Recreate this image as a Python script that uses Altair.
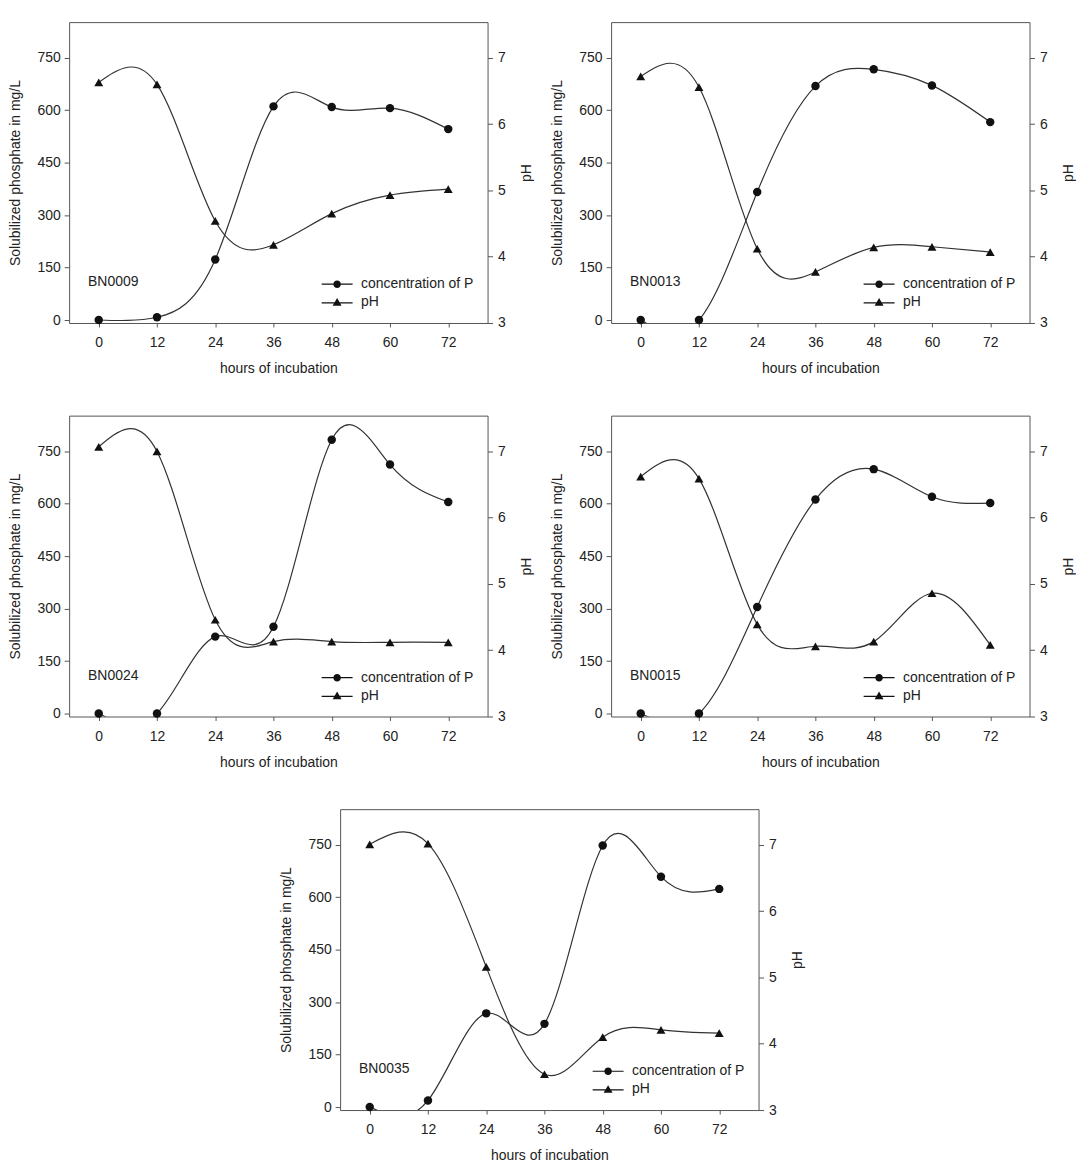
import altair as alt
import pandas as pd

# ---------------- data ----------------
hours = [0, 12, 24, 36, 48, 60, 72]
strains = ["BN0009", "BN0013", "BN0024", "BN0015", "BN0035"]

p_bn0009 = [0, 8, 173, 611, 609, 606, 546]
p_bn0013 = [0, 0, 366, 669, 717, 671, 566]
p_bn0024 = [0, 0, 220, 248, 783, 712, 605]
p_bn0015 = [0, 0, 305, 612, 699, 620, 602]
p_bn0035 = [0, 19, 268, 238, 748, 659, 624]

ph_bn0009 = [6.63, 6.60, 4.54, 4.18, 4.65, 4.93, 5.02]
ph_bn0013 = [6.72, 6.56, 4.12, 3.77, 4.14, 4.15, 4.07]
ph_bn0024 = [7.07, 7.00, 4.46, 4.13, 4.13, 4.12, 4.12]
ph_bn0015 = [6.62, 6.59, 4.39, 4.06, 4.13, 4.86, 4.08]
ph_bn0035 = [7.01, 7.02, 5.16, 3.54, 4.10, 4.21, 4.16]

phosphate = {"BN0009": p_bn0009, "BN0013": p_bn0013, "BN0024": p_bn0024,
             "BN0015": p_bn0015, "BN0035": p_bn0035}
ph = {"BN0009": ph_bn0009, "BN0013": ph_bn0013, "BN0024": ph_bn0024,
      "BN0015": ph_bn0015, "BN0035": ph_bn0035}

series_names = ["concentration of P", "pH"]
p_ticks = [0, 150, 300, 450, 600, 750]
ph_ticks = [3, 4, 5, 6, 7]

# ---------------- style ----------------
FONT = "Liberation Sans"
W, H = 420, 302
LINE = "#333333"
MARK = "#111111"
TEXT = "#222222"
FRAME = "#555555"

# legend symbols: a short filled bar (the line) with the marker in its middle
circle_path = ("M-1.94,-0.07H1.94V0.07H-1.94Z"
               "M0.47,0A0.47,0.47,0,1,1,-0.47,0A0.47,0.47,0,1,1,0.47,0Z")
tri_path = ("M-1.94,0.03H1.94V0.17H-1.94Z"
            "M0,-0.5L0.56,0.46L-0.56,0.46Z")


def panel(name):
    df = pd.DataFrame({"hours": hours, "P": phosphate[name], "pH": ph[name]})
    base = alt.Chart(df)

    x = alt.X("hours:Q",
              scale=alt.Scale(domain=[-6.1, 80.1], nice=False, zero=False),
              axis=alt.Axis(values=hours, title="hours of incubation",
                            tickSize=4, labelPadding=9, titlePadding=12))
    y_p = alt.Y("P:Q",
                scale=alt.Scale(domain=[-8.5, 852], nice=False, zero=False),
                axis=alt.Axis(values=p_ticks, orient="left",
                              title="Solubilized phosphate in mg/L",
                              tickSize=5, labelPadding=4, titlePadding=14))
    y_ph = alt.Y("pH:Q",
                 scale=alt.Scale(domain=[3, 7.54], nice=False, zero=False),
                 axis=alt.Axis(values=ph_ticks, orient="right", title="pH",
                               tickSize=5, labelPadding=5, titlePadding=14,
                               titleAngle=-90, titleBaseline="top"))

    p_line = base.mark_line(interpolate="natural", color=LINE, strokeWidth=1.2,
                            clip=True).encode(x=x, y=y_p)
    p_pts = base.mark_point(shape="circle", filled=True, size=72, color=MARK,
                            opacity=1).encode(x=x, y=y_p)
    ph_line = base.mark_line(interpolate="natural", color=LINE, strokeWidth=1.2,
                             clip=True).encode(x=x, y=y_ph)
    ph_pts = base.mark_point(shape="triangle-up", filled=True, size=80, color=MARK,
                             opacity=1).encode(x=x, y=y_ph)

    p_layer = alt.layer(p_line, p_pts)
    ph_layer = alt.layer(ph_line, ph_pts)

    legend_layer = base.transform_filter("false").mark_point(
        filled=True, size=256, color=MARK, opacity=1
    ).encode(
        shape=alt.Shape("series:N",
                        scale=alt.Scale(domain=series_names,
                                        range=[circle_path, tri_path]),
                        legend=alt.Legend(title=None, orient="bottom-right",
                                          offset=14, labelFont=FONT,
                                          labelFontSize=14, labelColor=TEXT,
                                          labelOffset=15, rowPadding=2,
                                          symbolSize=256,
                                          symbolFillColor=MARK))
    )

    label = alt.Chart(pd.DataFrame({"label": [name]})).mark_text(
        align="left", baseline="middle", font=FONT, fontSize=14, color=TEXT
    ).encode(x=alt.value(19), y=alt.value(H - 41), text="label:N")

    return alt.layer(
        alt.layer(p_layer, ph_layer).resolve_scale(y="independent"),
        legend_layer,
        label,
    ).properties(width=W, height=H)


panels = [panel(s) for s in strains]

row1 = alt.hconcat(panels[0], panels[1], spacing=16).resolve_scale(
    shape="independent").resolve_legend(shape="independent")
row2 = alt.hconcat(panels[2], panels[3], spacing=16).resolve_scale(
    shape="independent").resolve_legend(shape="independent")

chart = alt.vconcat(row1, row2, panels[4], spacing=38, center=True).resolve_scale(
    shape="independent"
).resolve_legend(
    shape="independent"
).properties(
    padding={"left": 0, "top": 11, "right": 0, "bottom": 0},
    background="white",
).configure(
    font=FONT
).configure_view(
    stroke=FRAME, strokeWidth=1
).configure_axis(
    labelFont=FONT, labelFontSize=14, labelColor=TEXT,
    titleFont=FONT, titleFontSize=14, titleFontWeight="normal", titleColor=TEXT,
    tickColor=FRAME, tickWidth=1, domain=False, grid=False,
)

chart.save("out.html", embed_options={"renderer": "svg", "actions": False})
